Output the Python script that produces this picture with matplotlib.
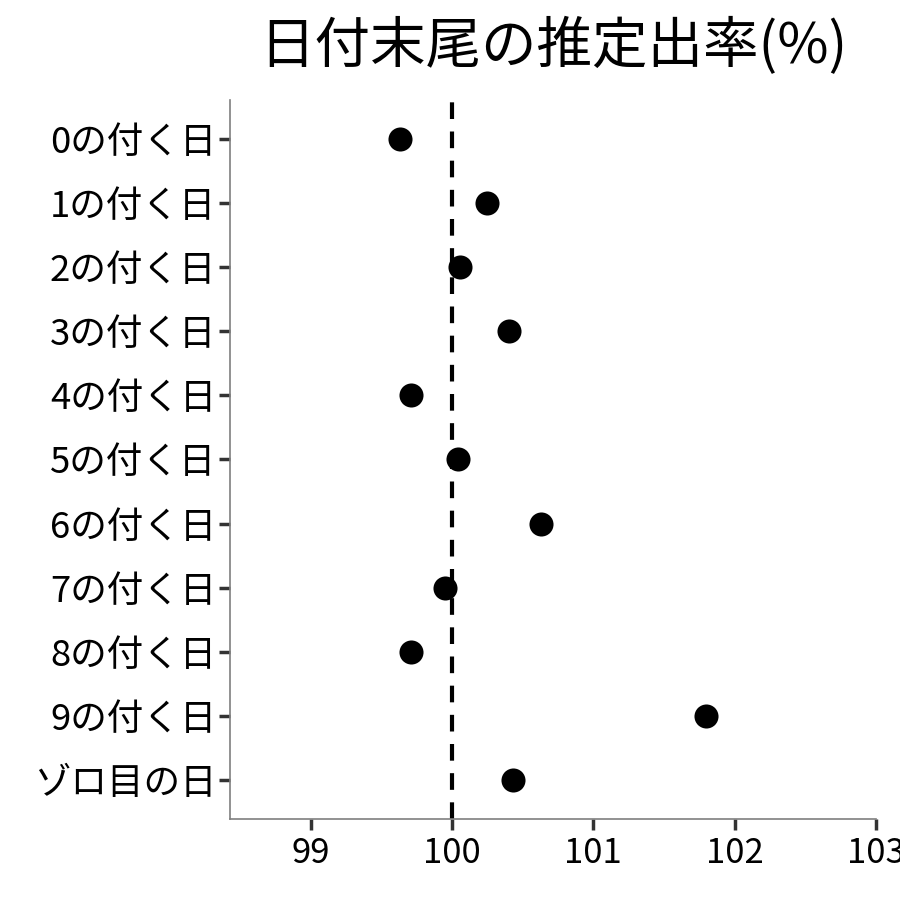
import matplotlib

matplotlib.use("Agg", force=True)
import matplotlib.pyplot as plt

plt.rcParams["font.family"] = ["Noto Sans CJK JP", "DejaVu Sans"]

categories = [
    "0の付く日", "1の付く日", "2の付く日", "3の付く日", "4の付く日",
    "5の付く日", "6の付く日", "7の付く日", "8の付く日", "9の付く日",
    "ゾロ目の日",
]
rates = [99.63, 100.25, 100.06, 100.40, 99.71, 100.04, 100.63, 99.95, 99.71, 101.80, 100.43]
x_ticks = [99, 100, 101, 102, 103]
title = "日付末尾の推定出率(%)"

fig = plt.figure(figsize=(9, 9), dpi=100)
ax = fig.add_axes([0.2556, 0.09, 0.7178, 0.7989])

ypos = list(range(len(categories)))
ax.axvline(100, color="black", linestyle=(0, (4, 3)), linewidth=3, zorder=1)
ax.scatter(rates, ypos, s=300, color="black", zorder=2, linewidths=0)

ax.set_yticks(ypos)
ax.set_yticklabels(categories)
ax.set_ylim(len(categories) - 0.4, -0.6)
ax.set_xticks(x_ticks)
ax.set_xlim(98.43, 103)

for side in ("top", "right"):
    ax.spines[side].set_visible(False)
for side in ("left", "bottom"):
    ax.spines[side].set_color("#7f7f7f")
    ax.spines[side].set_linewidth(1.2)
ax.tick_params(axis="both", colors="#333333", width=2.5, length=8,
               labelcolor="black")
ax.tick_params(axis="x", labelsize=25, pad=4)
ax.tick_params(axis="y", labelsize=26.3, pad=2)

fig.text(0.6144, 0.948, title, ha="center", va="center", fontsize=40)

fig.savefig("out.png", dpi=100)
